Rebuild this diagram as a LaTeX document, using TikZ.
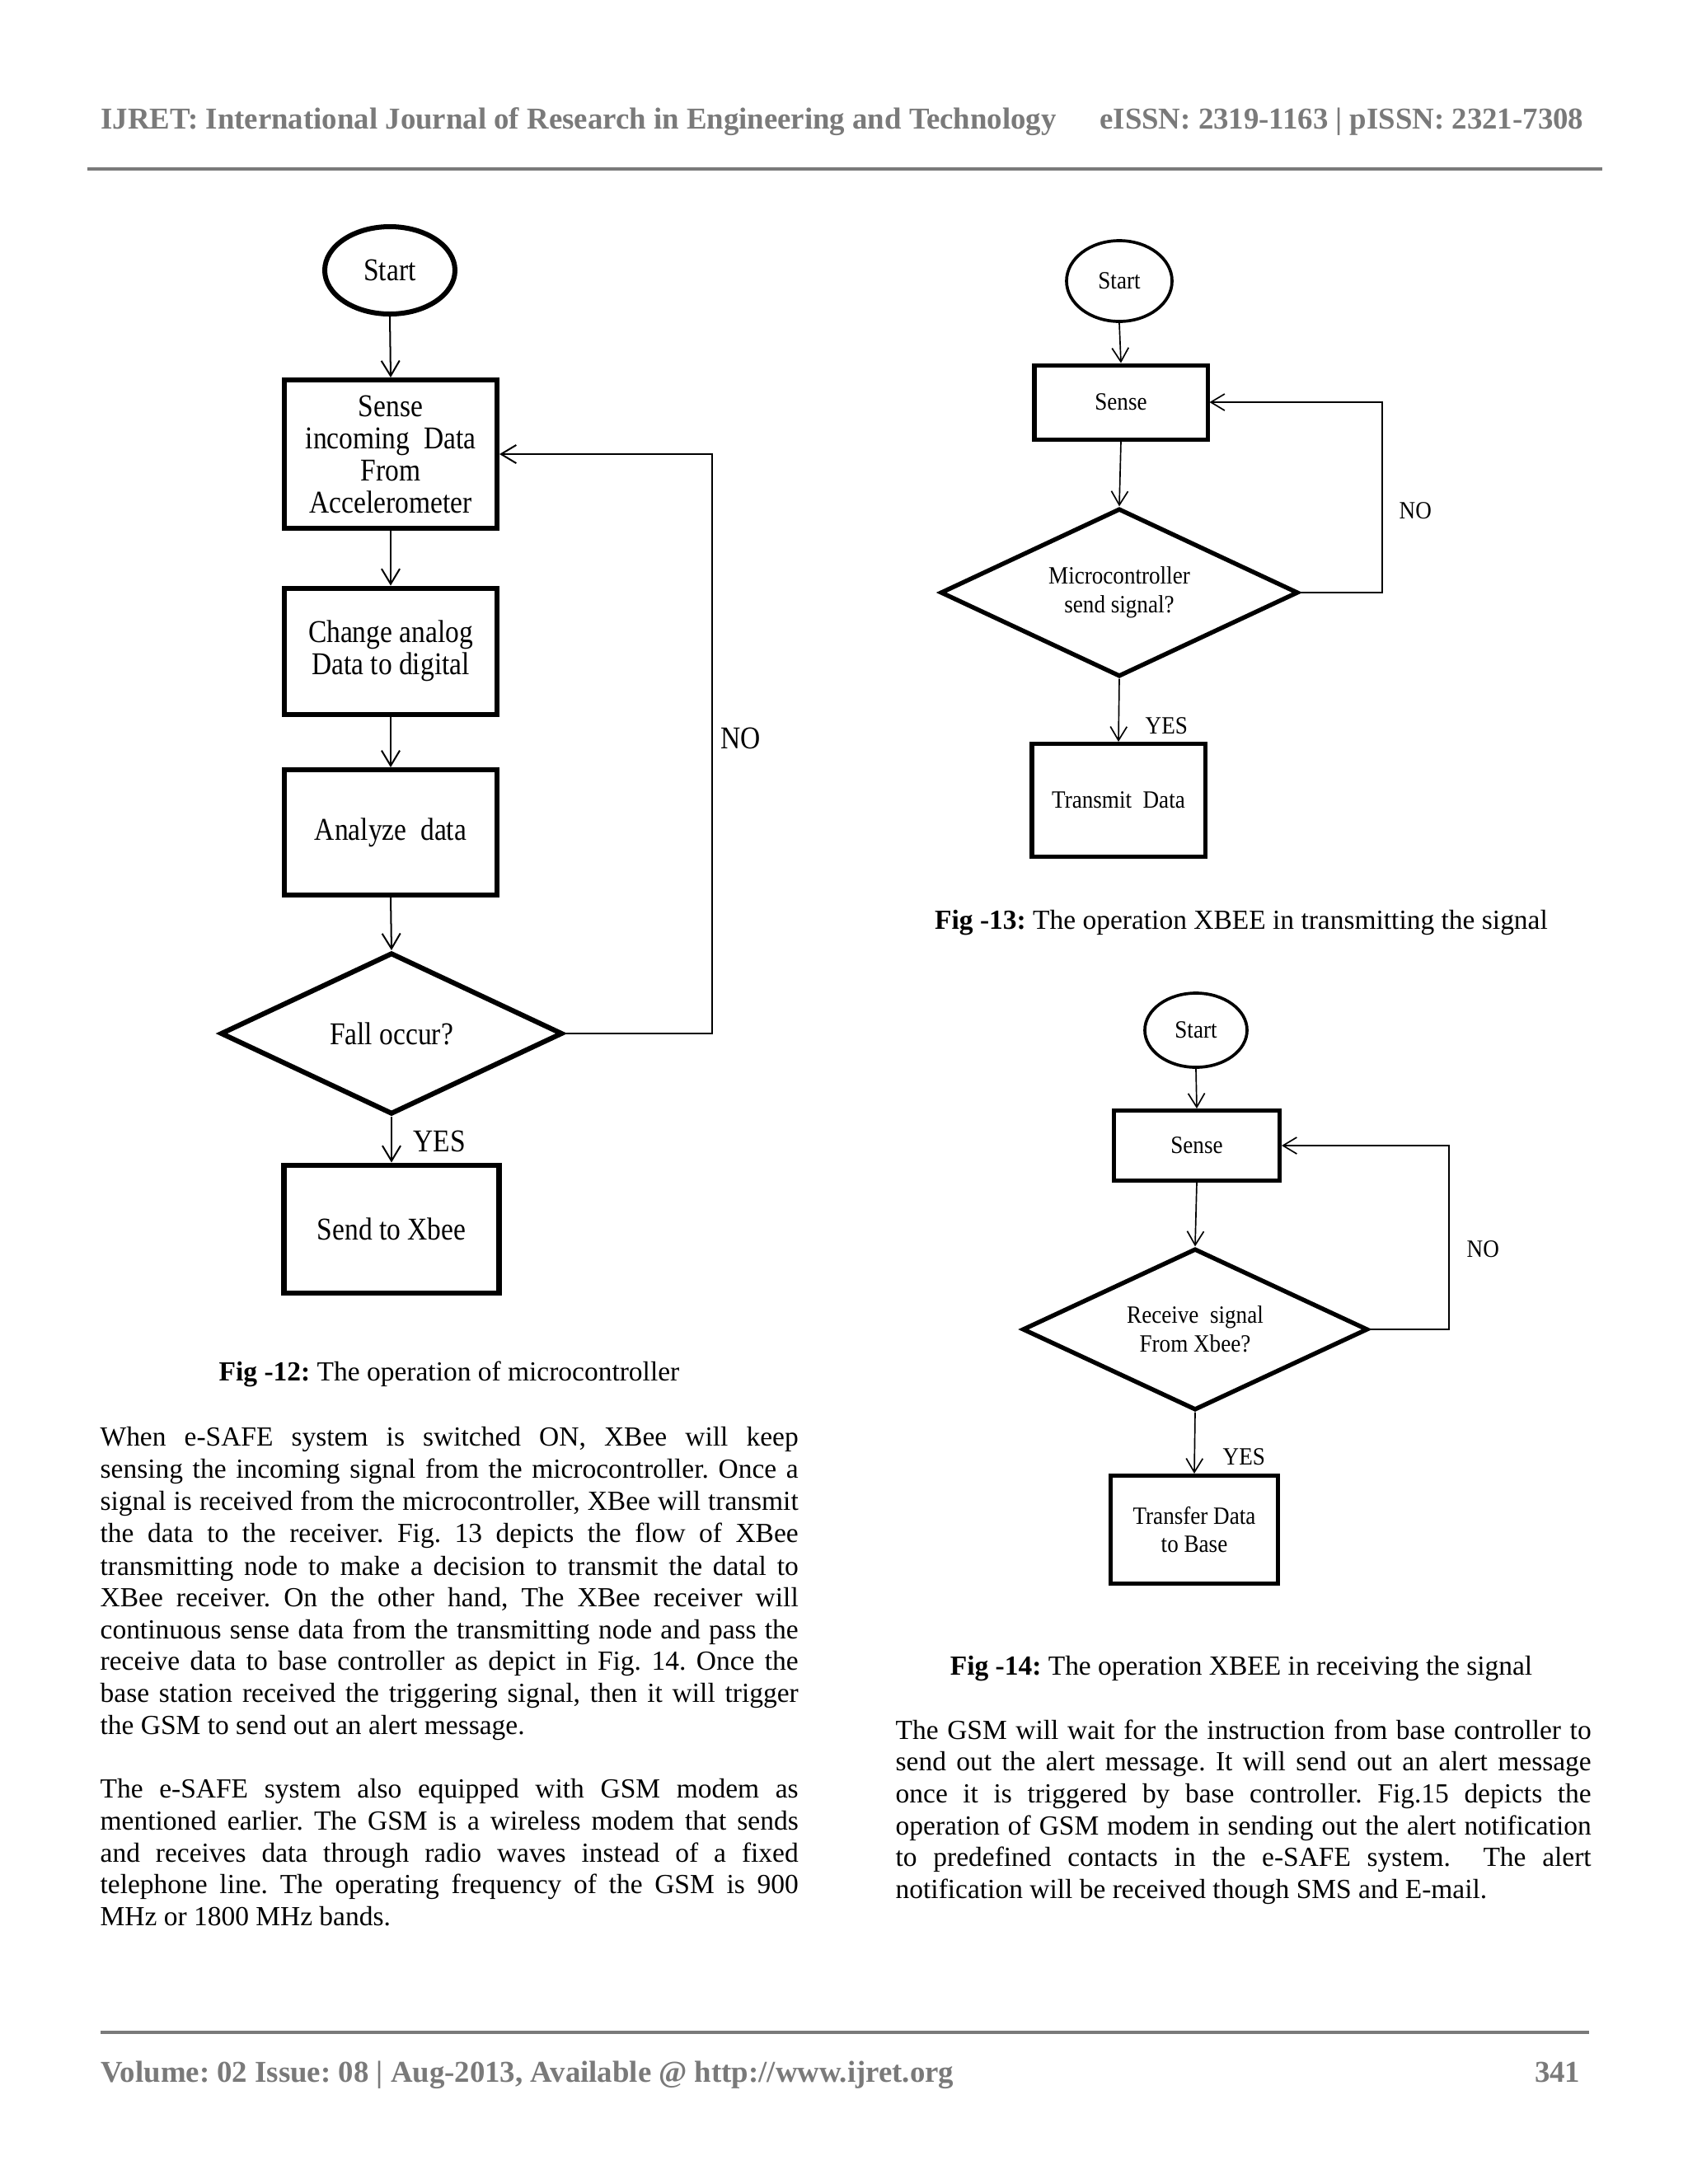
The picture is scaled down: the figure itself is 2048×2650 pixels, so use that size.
\documentclass[tikz,border=0pt]{standalone}
\usepackage{fontspec}
\setmainfont{Liberation Serif}
\newfontfamily\figfont{Liberation Serif}[FakeStretch=0.87]
\newfontfamily\figfontR{Liberation Serif}[FakeStretch=0.9]
\usetikzlibrary{shapes.geometric,arrows.meta}
\definecolor{hdrgray}{RGB}{122,122,122}
\newcommand\pxu{0.2988pt}
\newcommand\LW{253.1pt}
\newcommand\RW{252.2pt}
\frenchspacing
\begin{document}
\frenchspacing
\begin{tikzpicture}[x=0.2988pt,y=-0.2988pt,
  lfont/.style={font=\frenchspacing\figfont\fontsize{11.5}{11.65}\selectfont},
  rfont/.style={font=\frenchspacing\figfontR\fontsize{9}{10.4}\selectfont},
  lbox/.style={draw,rectangle,line width=1.8pt,inner sep=0pt,align=center,lfont},
  lterm/.style={draw,ellipse,line width=1.8pt,inner sep=0pt,align=center,lfont},
  ldia/.style={draw,diamond,aspect=2.1,line width=1.8pt,inner sep=0pt,align=center,lfont},
  rbox/.style={draw,rectangle,line width=1.5pt,inner sep=0pt,align=center,rfont},
  rterm/.style={draw,ellipse,line width=1.1pt,inner sep=0pt,align=center,rfont},
  rdia/.style={draw,diamond,aspect=2.13,line width=1.6pt,inner sep=0pt,align=center,rfont},
  arrL/.style={-{Straight Barb[length=5.5pt,width=6.6pt]},line width=0.6pt},
  arrR/.style={-{Straight Barb[length=5pt,width=6pt]},line width=0.5pt},
  llbl/.style={anchor=base west,inner sep=0pt,lfont},
  rlbl/.style={anchor=base west,inner sep=0pt,rfont},
  txt/.style={anchor=base west,inner sep=0pt,font=\frenchspacing\fontsize{10}{11.6}\selectfont},
  figcap/.style={anchor=base,inner sep=0pt,font=\frenchspacing\fontsize{10}{11.6}\selectfont},
  hdr/.style={inner sep=0pt,text=hdrgray,font=\bfseries\fontsize{11}{13}\selectfont}
]
\fill[white] (0,0) rectangle (2048,2650);
\useasboundingbox (0,0) rectangle (2048,2650);

% header and footer
\node[hdr,anchor=base west] (h1) at (122,156.5) {IJRET: International Journal of Research in Engineering and Technology};
\node[hdr,anchor=base east] (h2) at (1922,156.5) {eISSN: 2319-1163 | pISSN: 2321-7308};
\draw[hdrgray,line width=1pt] (106,205) -- (1944,205);
\draw[hdrgray,line width=1pt] (122,2466) -- (1928,2466);
\node[hdr,anchor=base west] (f1) at (122,2526) {Volume: 02 Issue: 08 | Aug-2013, Available @ http://www.ijret.org};
\node[hdr,anchor=base east] (f2) at (1918,2526) {341};

% ---------- Fig 12 ----------
\node[lterm,minimum width=158*\pxu,minimum height=106*\pxu] (s1) at (473,328) {Start};
\node[lbox,minimum width=258*\pxu,minimum height=180*\pxu] (b1) at (474,551) {Sense\\incoming\ \ Data\\From\\Accelerometer};
\node[lbox,minimum width=258*\pxu,minimum height=153*\pxu] (b2) at (474,790) {Change analog\\Data to digital};
\node[lbox,minimum width=258*\pxu,minimum height=152*\pxu] (b3) at (474,1010) {Analyze\ \ data};
\node[ldia,minimum width=415*\pxu,minimum height=196*\pxu] (d1) at (475,1254) {Fall occur?};
\node[lbox,minimum width=261*\pxu,minimum height=155*\pxu] (b4) at (475,1491) {Send to Xbee};
\coordinate (c1) at (864,551);
\draw[arrL] (s1.south) -- (b1.north);
\draw[arrL] (b1.south) -- (b2.north);
\draw[arrL] (b2.south) -- (b3.north);
\draw[arrL] (b3.south) -- (d1.north);
\draw[arrL] (d1.south) -- (b4.north);
\draw[arrL] (d1.east) -| (c1) -- (b1.east);
\node[llbl] (no1) at (874,908) {NO};
\node[llbl] (yes1) at (501,1397) {YES};
\node[figcap] (cap12) at (545,1675) {\textbf{Fig -12:} The operation of microcontroller};

% ---------- Fig 13 ----------
\node[rterm,minimum width=128*\pxu,minimum height=98*\pxu] (s2) at (1358,341) {Start};
\node[rbox,minimum width=210*\pxu,minimum height=90*\pxu] (b5) at (1360,488) {Sense};
\node[rdia,minimum width=434*\pxu,minimum height=204*\pxu] (d2) at (1358,719) {Microcontroller\\send signal?};
\node[rbox,minimum width=210*\pxu,minimum height=137*\pxu] (b6) at (1357,971) {Transmit\ \ Data};
\coordinate (c2) at (1677,488);
\draw[arrR] (s2.south) -- (b5.north);
\draw[arrR] (b5.south) -- (d2.north);
\draw[arrR] (d2.south) -- (b6.north);
\draw[arrR] (d2.east) -| (c2) -- (b5.east);
\node[rlbl] (no2) at (1697,629) {NO};
\node[rlbl] (yes2) at (1389,890) {YES};
\node[figcap] (cap13) at (1506,1127) {\textbf{Fig -13:} The operation XBEE in transmitting the signal};

% ---------- Fig 14 ----------
\node[rterm,minimum width=124*\pxu,minimum height=90*\pxu] (s3) at (1451,1250) {Start};
\node[rbox,minimum width=201*\pxu,minimum height=85*\pxu] (b7) at (1452,1390) {Sense};
\node[rdia,minimum width=419*\pxu,minimum height=196*\pxu] (d3) at (1450,1613) {Receive\ \ signal\\From Xbee?};
\node[rbox,minimum width=203*\pxu,minimum height=131*\pxu] (b8) at (1449,1856) {Transfer Data\\to Base};
\coordinate (c3) at (1758,1390);
\draw[arrR] (s3.south) -- (b7.north);
\draw[arrR] (b7.south) -- (d3.north);
\draw[arrR] (d3.south) -- (b8.north);
\draw[arrR] (d3.east) -| (c3) -- (b7.east);
\node[rlbl] (no3) at (1779,1525) {NO};
\node[rlbl] (yes3) at (1483,1777) {YES};
\node[figcap] (cap14) at (1506,2032) {\textbf{Fig -14:} The operation XBEE in receiving the signal};

% ---------- left column text ----------
\node[txt] (l1) at (121,1754) {\makebox[\LW][s]{When e-SAFE system is switched ON, XBee will keep}};
\node[txt] (l2) at (121,1793) {\makebox[\LW][s]{sensing the incoming signal from the microcontroller. Once a}};
\node[txt] (l3) at (121,1832) {\makebox[\LW][s]{signal is received from the microcontroller, XBee will transmit}};
\node[txt] (l4) at (121,1871.5) {\makebox[\LW][s]{the data to the receiver. Fig. 13 depicts the flow of XBee}};
\node[txt] (l5) at (121,1911) {\makebox[\LW][s]{transmitting node to make a decision to transmit the datal to}};
\node[txt] (l6) at (121,1949) {\makebox[\LW][s]{XBee receiver. On the other hand, The XBee receiver will}};
\node[txt] (l7) at (121,1988) {\makebox[\LW][s]{continuous sense data from the transmitting node and pass the}};
\node[txt] (l8) at (121,2026.5) {\makebox[\LW][s]{receive data to base controller as depict in Fig. 14. Once the}};
\node[txt] (l9) at (121,2065) {\makebox[\LW][s]{base station received the triggering signal, then it will trigger}};
\node[txt] (l10) at (121,2104) {the GSM to send out an alert message.};

\node[txt] (m1) at (121,2181) {\makebox[\LW][s]{The e-SAFE system also equipped with GSM modem as}};
\node[txt] (m2) at (121,2220) {\makebox[\LW][s]{mentioned earlier. The GSM is a wireless modem that sends}};
\node[txt] (m3) at (121,2259) {\makebox[\LW][s]{and receives data through radio waves instead of a fixed}};
\node[txt] (m4) at (121,2297.5) {\makebox[\LW][s]{telephone line. The operating frequency of the GSM is 900}};
\node[txt] (m5) at (121,2336) {MHz or 1800 MHz bands.};

% ---------- right column text ----------
\node[txt] (r1) at (1086,2110) {\makebox[\RW][s]{The GSM will wait for the instruction from base controller to}};
\node[txt] (r2) at (1086,2148.5) {\makebox[\RW][s]{send out the alert message. It will send out an alert message}};
\node[txt] (r3) at (1086,2187) {\makebox[\RW][s]{once it is triggered by base controller. Fig.15 depicts the}};
\node[txt] (r4) at (1086,2226) {\makebox[\RW][s]{operation of GSM modem in sending out the alert notification}};
\node[txt] (r5) at (1086,2264.5) {\makebox[\RW][s]{to predefined contacts in the e-SAFE system.\ \ The alert}};
\node[txt] (r6) at (1086,2303) {notification will be received though SMS and E-mail.};
\end{tikzpicture}
\end{document}
